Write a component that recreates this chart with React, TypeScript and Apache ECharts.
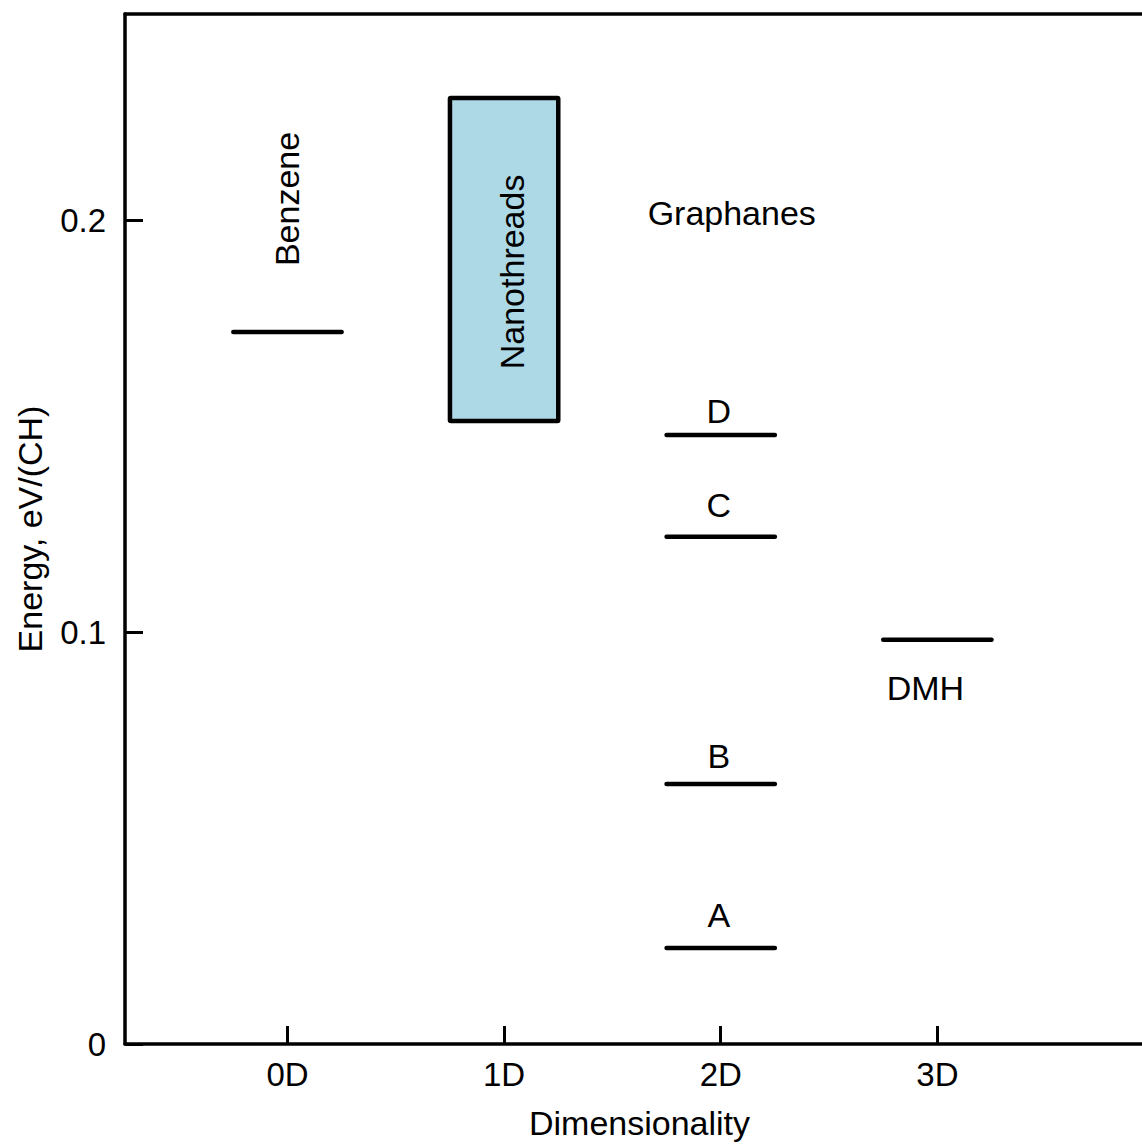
import React, { useEffect, useRef } from "react";
import * as echarts from "echarts";

// Dimension tick positions and labels
const dimPositions = [0, 1, 2, 3];
const dimLabels = ["0D", "1D", "2D", "3D"];

// Energy tick values
const energyTicks = [0, 0.1, 0.2];

// Energy levels (horizontal bars)
const levelNames = ["Benzene", "A", "B", "C", "D", "DMH"];
const levelDim = [0, 2, 2, 2, 2, 3];
const levelEnergy = [0.1728, 0.0233, 0.0631, 0.1231, 0.1478, 0.0981];
// Energy at which each level's name is written
const labelEnergy = [0.2051, 0.0312, 0.0699, 0.1309, 0.1536, 0.0864];

// Nanothreads energy range
const threadName = "Nanothreads";
const threadDim = 1;
const threadLow = 0.1512;
const threadHigh = 0.2296;
const threadLabelEnergy = 0.1874;

// Group label
const groupName = "Graphanes";
const groupDim = 2;
const groupEnergy = 0.2017;

const FONT = "Liberation Sans, Arial, sans-serif";
const FS = 34;
const HALF = 0.25;

export default function App() {
  const ref = useRef<HTMLDivElement>(null);
  useEffect(() => {
    if (!ref.current) return;
    const chart = echarts.init(ref.current, null, { renderer: "svg" });

    const levelData = levelNames.map((n, i) => [levelDim[i], levelEnergy[i], labelEnergy[i], n]);

    const option: any = {
      animation: false,
      backgroundColor: "#ffffff",
      textStyle: { fontFamily: FONT },
      grid: { left: 125, top: 14, width: 1029, height: 1030, outerBoundsMode: "none", containLabel: false },
      xAxis: [
        {
          type: "value",
          min: -0.75,
          max: 4.0,
          name: "Dimensionality",
          nameLocation: "middle",
          nameGap: 62,
          nameTextStyle: { fontSize: FS, color: "#000", fontFamily: FONT },
          axisLine: { show: true, onZero: false, lineStyle: { color: "#000", width: 3.5 } },
          axisTick: {
            show: true,
            inside: true,
            length: 18,
            customValues: dimPositions,
            lineStyle: { color: "#000", width: 3 },
          },
          axisLabel: {
            show: true,
            margin: 14,
            fontSize: 33,
            color: "#000",
            fontFamily: FONT,
            customValues: dimPositions,
            formatter: (v: number) => dimLabels[dimPositions.indexOf(Math.round(v))] ?? "",
          },
          splitLine: { show: false },
        },
        {
          type: "value",
          position: "top",
          min: -0.75,
          max: 4.0,
          axisLine: { show: true, onZero: false, lineStyle: { color: "#000", width: 3.5 } },
          axisTick: { show: false },
          axisLabel: { show: false },
          splitLine: { show: false },
        },
      ],
      yAxis: {
        type: "value",
        min: 0,
        max: 0.25,
        name: "Energy, eV/(CH)",
        nameLocation: "middle",
        nameGap: 78,
        nameRotate: 90,
        nameTextStyle: { fontSize: FS, color: "#000", fontFamily: FONT },
        axisLine: { show: true, onZero: false, lineStyle: { color: "#000", width: 3.5 } },
        axisTick: {
          show: true,
          inside: true,
          length: 18,
          customValues: energyTicks,
          lineStyle: { color: "#000", width: 3 },
        },
        axisLabel: {
          show: true,
          margin: 19,
          fontSize: 33,
          color: "#000",
          fontFamily: FONT,
          customValues: energyTicks,
          formatter: (v: number) => String(Math.round(v * 10) / 10),
        },
        splitLine: { show: false },
      },
      series: [
        {
          type: "custom",
          xAxisIndex: 0,
          data: [[threadDim, threadLow, threadHigh, threadLabelEnergy]],
          renderItem: (params: any, api: any) => {
            const p0 = api.coord([api.value(0) - HALF, api.value(2)]);
            const p1 = api.coord([api.value(0) + HALF, api.value(1)]);
            const pl = api.coord([api.value(0), api.value(3)]);
            return {
              type: "group",
              children: [
                {
                  type: "rect",
                  shape: { x: p0[0], y: p0[1], width: p1[0] - p0[0], height: p1[1] - p0[1], r: 1 },
                  style: { fill: "#add8e6", stroke: "#000", lineWidth: 4.5, lineJoin: "round" },
                },
                {
                  type: "text",
                  x: pl[0] + 8,
                  y: pl[1],
                  rotation: Math.PI / 2,
                  style: {
                    text: threadName,
                    fontSize: FS,
                    fontFamily: FONT,
                    fill: "#000",
                    align: "center",
                    verticalAlign: "middle",
                  },
                },
              ],
            };
          },
        },
        {
          type: "custom",
          xAxisIndex: 0,
          data: levelData,
          renderItem: (params: any, api: any) => {
            const x = api.value(0);
            const y = api.value(1);
            const ly = api.value(2);
            const name = levelNames[params.dataIndex];
            const a = api.coord([x - HALF, y]);
            const b = api.coord([x + HALF, y]);
            const l = api.coord([x, ly]);
            let tx = l[0];
            let rot = 0;
            if (name === "Benzene") {
              rot = Math.PI / 2;
            } else if (name === "DMH") {
              tx = l[0] - 12;
            } else {
              tx = l[0] - 2;
            }
            return {
              type: "group",
              children: [
                {
                  type: "line",
                  shape: { x1: a[0], y1: a[1], x2: b[0], y2: b[1] },
                  style: { stroke: "#000", lineWidth: 4.5, lineCap: "round" },
                },
                {
                  type: "text",
                  x: tx,
                  y: l[1],
                  rotation: rot,
                  style: {
                    text: name,
                    fontSize: FS,
                    fontFamily: FONT,
                    fill: "#000",
                    align: "center",
                    verticalAlign: "middle",
                  },
                },
              ],
            };
          },
        },
        {
          type: "custom",
          xAxisIndex: 0,
          data: [[groupDim, groupEnergy]],
          renderItem: (params: any, api: any) => {
            const p = api.coord([api.value(0), api.value(1)]);
            return {
              type: "text",
              x: p[0] + 11,
              y: p[1],
              style: {
                text: groupName,
                fontSize: FS,
                fontFamily: FONT,
                fill: "#000",
                align: "center",
                verticalAlign: "middle",
              },
            };
          },
        },
      ],
    };
    chart.setOption(option);
    return () => chart.dispose();
  }, []);
  return <div ref={ref} style={{ width: 1142, height: 1146, position: "absolute", left: 0, top: 0 }} />;
}
